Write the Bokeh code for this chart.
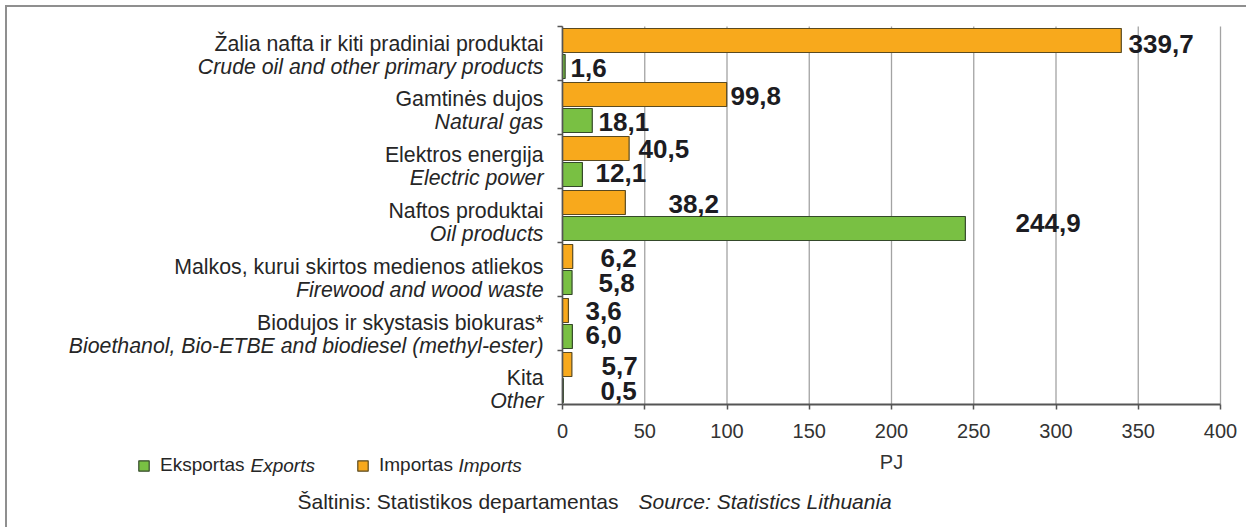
from bokeh.plotting import figure
from bokeh.models import ColumnDataSource, FixedTicker, LinearAxis, Legend, LegendItem, Range1d
from bokeh.core.properties import value
from bokeh.embed import file_html
from bokeh.resources import INLINE

# ---------------- data ----------------
categories_lt = [
    "Žalia nafta ir kiti pradiniai produktai",
    "Gamtinės dujos",
    "Elektros energija",
    "Naftos produktai",
    "Malkos, kurui skirtos medienos atliekos",
    "Biodujos ir skystasis biokuras*",
    "Kita",
]
categories_en = [
    "Crude oil and other primary products",
    "Natural gas",
    "Electric power",
    "Oil products",
    "Firewood and wood waste",
    "Bioethanol, Bio-ETBE and biodiesel (methyl-ester)",
    "Other",
]
imports = [339.7, 99.8, 40.5, 38.2, 6.2, 3.6, 5.7]
exports = [1.6, 18.1, 12.1, 244.9, 5.8, 6.0, 0.5]
x_ticks = [0, 50, 100, 150, 200, 250, 300, 350, 400]
x_axis_title = "PJ"
legend_export = ("Eksportas", "Exports")
legend_import = ("Importas", "Imports")
source_lt = "Šaltinis: Statistikos departamentas"
source_en = "Source: Statistics Lithuania"

# ---------------- label placement (layout, not data) ----------------
import_label_x = [344.1, 102.1, 46.2, 64.4, 23.1, 14.0, 23.7]
export_label_x = [4.9, 21.9, 20.1, 275.4, 21.9, 14.0, 23.1]
import_label_dy = [4, 2, 1, 2, 2, 1, 2]      # px, downwards
export_label_dy = [1, 1, -2, -6, 0, -2, 0]

# ---------------- geometry (page pixels) ----------------
PAGE_X0, PAGE_Y0 = 7, 7          # canvas origin on the page
W, H = 1241, 522
FRAME_L, FRAME_R = 562, 1220     # x = 0 .. 400
FRAME_T, FRAME_B = 26, 404       # y = n .. 0
XMAX = 400
n = len(categories_lt)
PX_X = (FRAME_R - FRAME_L) / XMAX
PX_Y = (FRAME_B - FRAME_T) / n


def px_x(page_x):
    return (page_x - FRAME_L) / PX_X


def px_y(page_y):
    return (FRAME_B - page_y) / PX_Y


FONT = "Liberation Sans"
TXT = "#262626"
ORANGE = "#F8A91C"
GREEN = "#79C043"
AXIS = "#555555"

p = figure(
    width=W, height=H,
    x_range=Range1d(px_x(PAGE_X0), px_x(PAGE_X0 + W)),
    y_range=Range1d(px_y(PAGE_Y0 + H), px_y(PAGE_Y0)),
    x_axis_location=None, y_axis_location=None,
    output_backend="svg", toolbar_location=None, min_border=0,
    styles={"margin-left": "5px", "margin-top": "5px",
            "border-top": "2px solid #8f8f8f", "border-left": "2px solid #8f8f8f"},
)
p.outline_line_color = None
p.background_fill_color = "white"
p.border_fill_color = "white"
p.xgrid.visible = False
p.ygrid.visible = False

# vertical grid lines at the tick values
p.segment(x0=x_ticks, x1=x_ticks, y0=[0] * len(x_ticks), y1=[n] * len(x_ticks),
          line_color="#a3a3a3", line_width=1.3)

centers = [n - i - 0.5 for i in range(n)]
bar_h = 24 / 54
src = ColumnDataSource(dict(
    y_imp=[c + 0.241 for c in centers],
    y_exp=[c - 0.241 for c in centers],
    imp=imports, exp=exports,
    imp_txt=[f"{v:.1f}".replace(".", ",") for v in imports],
    exp_txt=[f"{v:.1f}".replace(".", ",") for v in exports],
    imp_lx=import_label_x, exp_lx=export_label_x,
    imp_dy=import_label_dy, exp_dy=export_label_dy,
    yc=centers,
    lt=categories_lt, en=categories_en,
    lt_dy=[-10 + 1.8 * i for i in range(n)],
    en_dy=[13 + 1.8 * i for i in range(n)],
))

r_imp = p.hbar(y="y_imp", right="imp", left=0, height=bar_h, source=src,
               fill_color=ORANGE, line_color="#5a4a20", line_width=1.2)
r_exp = p.hbar(y="y_exp", right="exp", left=0, height=bar_h, source=src,
               fill_color=GREEN, line_color="#34492a", line_width=1.2)

# value labels
for xf, yf, tf, dyf in (("imp_lx", "y_imp", "imp_txt", "imp_dy"), ("exp_lx", "y_exp", "exp_txt", "exp_dy")):
    p.text(x=xf, y=yf, text=tf, y_offset=dyf, source=src,
           text_font=value(FONT), text_font_size="26px", text_font_style="bold",
           text_color="#1c1c22", text_align="left", text_baseline="middle")

# category labels (two lines)
p.text(x=0, y="yc", text="lt", x_offset=-19, y_offset="lt_dy", source=src,
       text_font=value(FONT), text_font_size="21.3px", text_color=TXT,
       text_align="right", text_baseline="middle")
p.text(x=0, y="yc", text="en", x_offset=-19, y_offset="en_dy", source=src,
       text_font=value(FONT), text_font_size="21.3px", text_font_style="italic", text_color=TXT,
       text_align="right", text_baseline="middle")

# axes fixed at the data origin
xaxis = LinearAxis(fixed_location=0, bounds=(0, XMAX), ticker=FixedTicker(ticks=x_ticks),
                   axis_label=x_axis_title)
xaxis.axis_label_text_font = FONT
xaxis.axis_label_text_font_size = "20px"
xaxis.axis_label_text_font_style = "normal"
xaxis.axis_label_text_color = "#333333"
xaxis.axis_label_standoff = 10
xaxis.major_label_text_font = FONT
xaxis.major_label_text_font_size = "20px"
xaxis.major_label_text_color = "#333333"
xaxis.major_label_standoff = 14
xaxis.axis_line_color = AXIS
xaxis.axis_line_width = 2
xaxis.major_tick_line_color = AXIS
xaxis.major_tick_line_width = 1.5
xaxis.major_tick_out = 5
xaxis.major_tick_in = 0
xaxis.minor_tick_line_color = None
p.add_layout(xaxis, "below")

y_ticks = list(range(n + 1))
yaxis = LinearAxis(fixed_location=0, bounds=(0, n), ticker=FixedTicker(ticks=y_ticks))
yaxis.major_label_overrides = {t: "" for t in y_ticks}
yaxis.major_label_standoff = 0
yaxis.axis_line_color = AXIS
yaxis.axis_line_width = 1.5
yaxis.major_tick_line_color = AXIS
yaxis.major_tick_line_width = 1.5
yaxis.major_tick_out = 5
yaxis.major_tick_in = 0
yaxis.minor_tick_line_color = None
p.add_layout(yaxis, "left")


# legend (two single-item legends; the italic words are separate texts)
def make_legend(text, rend, page_x, page_ybottom):
    lg = Legend(items=[LegendItem(label=text, renderers=[rend])],
                location=(page_x - PAGE_X0, PAGE_Y0 + H - page_ybottom), orientation="horizontal",
                glyph_width=13, glyph_height=13, label_standoff=10,
                padding=0, margin=0, spacing=0, border_line_color=None,
                background_fill_alpha=0, label_height=13,
                label_text_font=FONT, label_text_font_size="19px", label_text_color=TXT)
    p.add_layout(lg, "center")


make_legend(legend_export[0], r_exp, 137, 476)
make_legend(legend_import[0], r_imp, 356, 476)

extra = ColumnDataSource(dict(
    x=[px_x(250), px_x(458)], y=[px_y(465), px_y(465)],
    t=[legend_export[1], legend_import[1]],
))
p.text(x="x", y="y", text="t", source=extra, text_font=value(FONT), text_font_size="19px",
       text_font_style="italic", text_color=TXT, text_align="left", text_baseline="middle")

p.text(x=[px_x(297)], y=[px_y(500.5)], text=[source_lt], text_font=value(FONT),
       text_font_size="21px", text_color=TXT, text_align="left", text_baseline="middle")
p.text(x=[px_x(638)], y=[px_y(500.5)], text=[source_en], text_font=value(FONT),
       text_font_size="21px", text_font_style="italic", text_color=TXT,
       text_align="left", text_baseline="middle")

open("out.html", "w").write(file_html(p, INLINE))
